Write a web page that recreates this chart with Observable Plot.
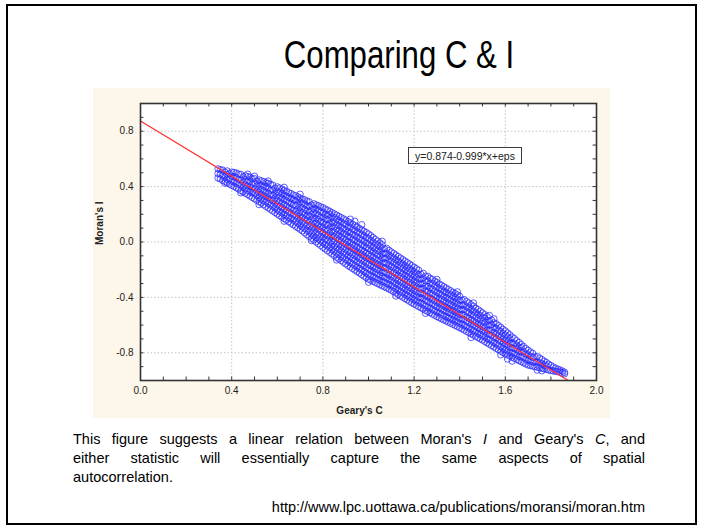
<!DOCTYPE html>
<html><head><meta charset="utf-8">
<script src="https://cdn.jsdelivr.net/npm/d3@7"></script>
<script src="https://cdn.jsdelivr.net/npm/@observablehq/plot@0.6"></script>
<style>
html,body{margin:0;padding:0;background:#fff;}
body{width:702px;height:528px;position:relative;overflow:hidden;font-family:"Liberation Sans",Arial,sans-serif;color:#000;}
#border{position:absolute;left:6px;top:4px;width:687px;height:517px;border:2px solid #000;box-sizing:content-box;}
#title{position:absolute;left:399px;top:36px;font-size:38px;line-height:38px;white-space:nowrap;transform:translateX(-50%) scaleX(0.82);transform-origin:center;}
#chart{position:absolute;left:93px;top:88px;width:517px;height:330px;background:#fcf7ea;}
#chart svg{display:block;}
#eq{position:absolute;left:315px;top:59px;width:114px;height:17px;box-sizing:border-box;border:1.5px solid #3a3a3a;background:#fff;font-size:10.5px;display:flex;align-items:center;justify-content:center;white-space:nowrap;color:#222;}
.cap{position:absolute;left:73px;width:572px;font-size:14.5px;line-height:19px;white-space:nowrap;}
.just{text-align:justify;text-align-last:justify;white-space:normal;}
#url{position:absolute;right:57px;top:497.5px;font-size:14.5px;line-height:19px;white-space:nowrap;}
</style></head>
<body>
<div id="border"></div>
<div id="title">Comparing C &amp; I</div>
<div id="chart"><div id="eq">y=0.874-0.999*x+eps</div></div>
<div class="cap just" style="top:429.5px">This figure suggests a linear relation between Moran's <i>I</i> and Geary's <i>C</i>, and</div>
<div class="cap just" style="top:448.5px">either statistic will essentially capture the same aspects of spatial</div>
<div class="cap" style="top:467.5px">autocorrelation.</div>
<div id="url">http://www.lpc.uottawa.ca/publications/moransi/moran.htm</div>
<script>
// Geary's C column positions and the Moran's I values read in each column (even columns)
const gearyC = [0.34,0.36,0.38,0.40,0.42,0.44,0.46,0.48,0.50,0.52,0.54,0.56,0.58,0.60,0.62,0.64,0.66,0.68,0.70,0.72,0.74,0.76,0.78,0.80,0.82,0.84,0.86,0.88,0.90,0.92,0.94,0.96,0.98,1.00,1.02,1.04,1.06,1.08,1.10,1.12,1.14,1.16,1.18,1.20,1.22,1.24,1.26,1.28,1.30,1.32,1.34,1.36,1.38,1.40,1.42,1.44,1.46,1.48,1.50,1.52,1.54,1.56,1.58,1.60,1.62,1.64,1.66,1.68,1.70,1.72,1.74,1.76,1.78,1.80,1.82,1.84,1.86];
const moranI = [
 [.462,.494,.528],[.445,.481,.519],[.427,.453,.487,.513],[.409,.44,.476,.505],[.392,.425,.465,.498],
 [.372,.41,.448,.488],[.352,.384,.413,.449,.478],[.332,.366,.398,.436,.468],[.312,.349,.383,.424,.458],
 [.292,.321,.355,.384,.419,.448],[.269,.302,.334,.371,.402,.436],[.247,.279,.318,.351,.39,.423],
 [.224,.259,.299,.335,.376,.41],[.202,.232,.268,.299,.335,.366,.398],[.18,.211,.248,.28,.317,.348,.382],
 [.158,.19,.228,.26,.298,.331,.366],[.136,.169,.208,.241,.28,.314,.35],[.114,.148,.188,.222,.262,.297,.334],
 [.092,.122,.157,.188,.223,.253,.289,.318],[.066,.098,.134,.166,.204,.235,.273,.304],
 [.04,.073,.111,.145,.185,.217,.258,.29],[.014,.044,.08,.11,.147,.177,.213,.243,.276],
 [-.012,.022,.054,.092,.124,.161,.193,.231,.262],[-.038,-.005,.034,.067,.107,.14,.179,.212,.248],
 [-.062,-.028,.012,.045,.086,.119,.16,.193,.23],[-.086,-.056,-.019,.011,.048,.078,.115,.145,.182,.212],
 [-.11,-.079,-.042,-.011,.027,.057,.095,.126,.164,.194],[-.134,-.102,-.064,-.033,.006,.037,.075,.106,.145,.176],
 [-.158,-.126,-.087,-.055,-.016,.016,.055,.087,.126,.158],[-.18,-.148,-.108,-.076,-.037,-.005,.034,.067,.106,.138],
 [-.202,-.169,-.13,-.098,-.058,-.026,.014,.046,.086,.118],[-.224,-.191,-.152,-.119,-.079,-.047,-.007,.026,.066,.098],
 [-.246,-.213,-.173,-.14,-.1,-.067,-.027,.006,.045,.078],[-.268,-.235,-.195,-.162,-.121,-.088,-.048,-.015,.025,.058],
 [-.284,-.252,-.213,-.181,-.142,-.11,-.071,-.039,0,.032],[-.3,-.269,-.231,-.2,-.162,-.131,-.093,-.062,-.024,.006],
 [-.316,-.286,-.249,-.22,-.183,-.153,-.116,-.086,-.049,-.02],[-.332,-.299,-.26,-.227,-.187,-.154,-.115,-.082,-.046],
 [-.348,-.316,-.278,-.247,-.208,-.177,-.138,-.107,-.072],[-.368,-.337,-.299,-.267,-.229,-.198,-.16,-.128,-.094],
 [-.388,-.357,-.319,-.288,-.25,-.219,-.181,-.15,-.116],[-.408,-.377,-.34,-.308,-.271,-.24,-.203,-.172,-.138],
 [-.428,-.397,-.36,-.329,-.292,-.261,-.224,-.193,-.16],[-.448,-.418,-.381,-.35,-.313,-.283,-.246,-.215,-.182],
 [-.466,-.436,-.4,-.37,-.333,-.303,-.267,-.237,-.204],[-.484,-.45,-.409,-.375,-.334,-.3,-.26,-.226],
 [-.502,-.469,-.428,-.395,-.355,-.321,-.281,-.248],[-.52,-.487,-.447,-.415,-.375,-.342,-.302,-.27],
 [-.538,-.506,-.467,-.435,-.395,-.363,-.324,-.292],[-.554,-.522,-.484,-.452,-.413,-.382,-.343,-.312],
 [-.57,-.539,-.501,-.47,-.432,-.401,-.363,-.332],[-.586,-.555,-.518,-.487,-.45,-.419,-.382,-.352],
 [-.602,-.572,-.535,-.505,-.468,-.438,-.402,-.372],[-.618,-.588,-.552,-.523,-.487,-.457,-.421,-.392],
 [-.636,-.602,-.561,-.528,-.487,-.453,-.416],[-.654,-.621,-.582,-.549,-.509,-.476,-.44],
 [-.672,-.64,-.601,-.57,-.531,-.499,-.464],[-.69,-.659,-.621,-.591,-.553,-.522,-.488],
 [-.708,-.678,-.641,-.612,-.575,-.545,-.512],[-.728,-.699,-.663,-.635,-.599,-.57,-.538],
 [-.748,-.714,-.673,-.639,-.598,-.564],[-.768,-.735,-.695,-.662,-.623,-.59],
 [-.788,-.756,-.717,-.686,-.647,-.616],[-.808,-.777,-.74,-.71,-.672,-.642],
 [-.824,-.796,-.761,-.733,-.698,-.67],[-.84,-.807,-.767,-.734,-.698],[-.856,-.826,-.789,-.759,-.726],
 [-.872,-.835,-.791,-.754],[-.888,-.855,-.815,-.782],[-.896,-.867,-.833,-.804],[-.904,-.866,-.826],
 [-.912,-.879,-.848],[-.92,-.894,-.87],[-.928,-.892],[-.934,-.911],[-.94,-.924],[-.952,-.94]
];
// odd columns
const gearyC2 = [0.35,0.37,0.39,0.41,0.43,0.45,0.47,0.49,0.51,0.53,0.55,0.57,0.59,0.61,0.63,0.65,0.67,0.69,0.71,0.73,0.75,0.77,0.79,0.81,0.83,0.85,0.87,0.89,0.91,0.93,0.95,0.97,0.99,1.01,1.03,1.05,1.07,1.09,1.11,1.13,1.15,1.17,1.19,1.21,1.23,1.25,1.27,1.29,1.31,1.33,1.35,1.37,1.39,1.41,1.43,1.45,1.47,1.49,1.51,1.53,1.55,1.57,1.59,1.61,1.63,1.65,1.67,1.69,1.71,1.73,1.75,1.77,1.79,1.81,1.83,1.85];
const moranI2 = [
 [.455,.49,.522],[.438,.47,.505],[.418,.456,.493],[.401,.434,.47,.502],[.383,.418,.452,.49],
 [.362,.396,.431,.47],[.343,.372,.405,.44,.472],[.322,.357,.39,.418,.455],[.301,.336,.368,.403,.44],
 [.281,.31,.345,.377,.41,.441],[.258,.29,.327,.36,.398,.428],[.236,.268,.305,.342,.373,.416],
 [.213,.247,.281,.317,.352,.388],[.19,.222,.258,.29,.325,.356,.39],[.17,.2,.236,.27,.306,.338,.372],
 [.147,.178,.215,.25,.288,.322,.356],[.125,.16,.196,.23,.268,.305,.34],[.103,.136,.17,.205,.238,.272,.305,.326],
 [.08,.11,.146,.178,.212,.246,.28,.31],[.053,.085,.12,.157,.19,.226,.262,.296],
 [.027,.06,.094,.128,.163,.197,.231,.266],[.001,.032,.066,.1,.136,.169,.204,.237,.268],
 [-.025,.008,.04,.078,.113,.147,.18,.218,.254],[-.05,-.018,.02,.053,.09,.126,.166,.2,.238],
 [-.074,-.04,-.004,.03,.066,.1,.134,.168,.2,.221],[-.098,-.066,-.03,.004,.04,.072,.108,.14,.175,.203],
 [-.122,-.088,-.053,-.02,.015,.05,.083,.118,.152,.185],[-.146,-.112,-.078,-.044,-.008,.027,.062,.097,.132,.167],
 [-.169,-.136,-.1,-.067,-.03,.003,.04,.075,.11,.147],[-.191,-.158,-.12,-.088,-.05,-.016,.02,.055,.092,.128],
 [-.213,-.18,-.143,-.108,-.072,-.036,0,.036,.072,.108],[-.235,-.2,-.164,-.13,-.092,-.058,-.02,.016,.052,.088],
 [-.257,-.224,-.186,-.151,-.115,-.078,-.04,-.006,.032,.068],[-.276,-.24,-.205,-.171,-.133,-.098,-.062,-.026,.01,.045],
 [-.292,-.26,-.222,-.19,-.152,-.12,-.082,-.05,-.014,.019],[-.308,-.275,-.24,-.208,-.17,-.136,-.1,-.068,-.034,-.007],
 [-.324,-.29,-.255,-.22,-.186,-.15,-.118,-.082,-.05],[-.34,-.306,-.27,-.236,-.2,-.166,-.13,-.095,-.06],
 [-.358,-.325,-.29,-.256,-.22,-.186,-.15,-.116,-.083],[-.378,-.345,-.31,-.276,-.24,-.206,-.17,-.138,-.105],
 [-.398,-.366,-.33,-.297,-.26,-.228,-.192,-.16,-.127],[-.418,-.386,-.35,-.318,-.282,-.25,-.214,-.181,-.149],
 [-.438,-.406,-.37,-.338,-.303,-.27,-.235,-.203,-.171],[-.457,-.425,-.39,-.358,-.323,-.29,-.256,-.225,-.193],
 [-.475,-.441,-.405,-.371,-.336,-.302,-.268,-.233],[-.493,-.46,-.422,-.388,-.352,-.318,-.28,-.247],
 [-.511,-.477,-.44,-.405,-.37,-.333,-.298,-.262],[-.529,-.495,-.458,-.424,-.388,-.352,-.318,-.283],
 [-.546,-.512,-.476,-.443,-.406,-.372,-.337,-.303],[-.562,-.53,-.494,-.461,-.425,-.392,-.356,-.323],
 [-.578,-.546,-.51,-.478,-.442,-.41,-.374,-.343],[-.594,-.562,-.527,-.495,-.46,-.428,-.393,-.363],
 [-.61,-.578,-.543,-.512,-.478,-.446,-.412,-.383],[-.627,-.593,-.558,-.524,-.49,-.456,-.42],
 [-.645,-.611,-.574,-.54,-.503,-.467,-.43],[-.663,-.63,-.593,-.56,-.523,-.488,-.453],
 [-.681,-.648,-.611,-.58,-.543,-.51,-.477],[-.699,-.666,-.63,-.598,-.562,-.532,-.5],
 [-.718,-.685,-.65,-.618,-.582,-.55,-.525],[-.738,-.704,-.668,-.635,-.6,-.568],
 [-.758,-.725,-.688,-.654,-.617,-.584],[-.778,-.745,-.708,-.675,-.638,-.604],
 [-.798,-.766,-.73,-.698,-.662,-.63],[-.816,-.786,-.75,-.72,-.686,-.657],
 [-.832,-.801,-.765,-.73,-.686],[-.848,-.815,-.778,-.745,-.713],[-.864,-.83,-.795,-.762,-.741],
 [-.88,-.846,-.808,-.77],[-.892,-.86,-.825,-.794],[-.9,-.866,-.83],[-.908,-.872,-.838],
 [-.916,-.887,-.86],[-.924,-.882],[-.93,-.902],[-.936,-.918],[-.946,-.932]
];
// scattered points along the ragged edges of the cloud
const edgeC = [0.47,0.50,0.56,0.63,0.70,0.92,0.94,0.97,1.06,1.30,1.39,1.46,1.53,1.55,0.37,0.44,0.52,0.63,0.75,0.86,1.00,1.12,1.25,1.45,1.58,1.61,1.63,1.74,1.76];
const edgeI = [0.49,0.475,0.44,0.395,0.345,0.165,0.15,0.125,0.005,-0.27,-0.36,-0.44,-0.53,-0.555,0.425,0.355,0.27,0.15,0.01,-0.13,-0.29,-0.39,-0.515,-0.69,-0.815,-0.845,-0.86,-0.925,-0.93];
// fitted line y = 0.874 - 0.999 x, drawn over the Geary's C range shown
const fitIntercept = 0.874;
const fitSlope = -0.999;
const fitRange = [0, 1.876];
const xTicks = [0, 0.4, 0.8, 1.2, 1.6, 2.0];
const yTicks = [-0.8, -0.4, 0, 0.4, 0.8];
const xMinor = [0.1,0.2,0.3,0.4,0.5,0.6,0.7,0.8,0.9,1.0,1.1,1.2,1.3,1.4,1.5,1.6,1.7,1.8,1.9];
const yMinor = [-0.9,-0.8,-0.7,-0.6,-0.5,-0.4,-0.3,-0.2,-0.1,0,0.1,0.2,0.3,0.4,0.5,0.6,0.7,0.8,0.9];
const xLabel = "Geary's C";
const yLabel = "Moran's I";

const points = [
  ...gearyC.flatMap((c, i) => moranI[i].map(v => ({c, v}))),
  ...gearyC2.flatMap((c, i) => moranI2[i].map(v => ({c, v}))),
  ...edgeC.map((c, i) => ({c, v: edgeI[i]}))
];
const fit = fitRange.map(c => ({c, v: fitIntercept + fitSlope * c}));
const fmt = d => d.toFixed(1);

const plot = Plot.plot({
  width: 517, height: 330,
  marginLeft: 47, marginRight: 14, marginTop: 15, marginBottom: 38,
  style: {fontFamily: "'Liberation Sans', Arial, sans-serif", fontSize: "10px", color: "#222", background: "transparent", overflow: "visible"},
  x: {domain: [0, 2]},
  y: {domain: [-1, 1]},
  marks: [
    Plot.frame({fill: "#fff", stroke: null}),
    Plot.gridX(xTicks.slice(1, -1), {stroke: "#c4c4c4", strokeOpacity: 1, strokeDasharray: "1.5,2"}),
    Plot.gridY(yTicks, {stroke: "#c4c4c4", strokeOpacity: 1, strokeDasharray: "1.5,2"}),
    Plot.dot(points, {x: "c", y: "v", r: 3.2, stroke: "#2828ff", strokeWidth: 0.75, fill: "none"}),
    Plot.line(fit, {x: "c", y: "v", stroke: "#ff3030", strokeWidth: 1.3}),
    Plot.ruleX(xMinor, {x: d => d, y1: -1, y2: -0.975, stroke: "#333"}),
    Plot.ruleX(xMinor, {x: d => d, y1: 1, y2: 0.975, stroke: "#333"}),
    Plot.ruleY(yMinor, {y: d => d, x1: 0, x2: 0.015, stroke: "#333"}),
    Plot.ruleY(yMinor, {y: d => d, x1: 2, x2: 1.985, stroke: "#333"}),
    Plot.frame({stroke: "#333", strokeWidth: 1.6}),
    Plot.axisX(xTicks, {tickSize: 0, tickPadding: 6, tickFormat: fmt, label: null, fontSize: 10}),
    Plot.axisY(yTicks, {tickSize: 0, tickPadding: 7, tickFormat: fmt, label: null, fontSize: 10}),
    Plot.text([xLabel], {text: d => d, frameAnchor: "bottom", dx: -9, dy: 30, lineAnchor: "middle", fontWeight: "bold", fontSize: 10}),
    Plot.text([yLabel], {text: d => d, frameAnchor: "left", dx: -41, dy: 3, rotate: -90, lineAnchor: "middle", fontWeight: "bold", fontSize: 10})
  ]
});
document.getElementById("chart").prepend(plot);
</script>
</body></html>
